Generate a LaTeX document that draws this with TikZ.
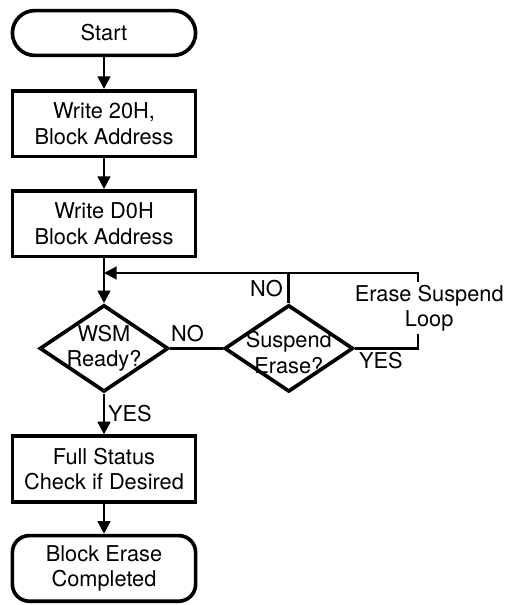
\documentclass[tikz,border=0pt]{standalone}
\usepackage{fontspec}
\setmainfont{TeX Gyre Heros}
\usetikzlibrary{shapes.geometric,arrows.meta,positioning}

\begin{document}
\begin{tikzpicture}[
    font=\fontsize{15.5}{18}\selectfont,
    procbox/.style={draw, line width=2.6pt, align=center, minimum width=4.58cm, minimum height=1.64cm},
    termbox/.style={procbox, rounded corners=0.42cm},
    decbox/.style={draw, diamond, line width=2.6pt, minimum width=3.22cm, minimum height=2.17cm, inner sep=0pt},
    flow/.style={line width=1.9pt},
    >={Triangle[length=9pt,width=9pt]}
]
    \useasboundingbox (0,0) rectangle (12.625,-15.125);

    \node[termbox, rounded corners=0.56cm, minimum height=1.12cm] (start) at (2.6,-0.825) {Start};
    \node[procbox] (write1) at (2.6,-3.09) {Write 20H,\\Block Address};
    \node[procbox] (write2) at (2.6,-5.59) {Write D0H\\Block Address};
    \node[decbox] (wsm) at (2.6,-8.71) {};
    \node[align=center] (wsmtext) at (wsm) {WSM\\Ready?};
    \node[decbox] (suspend) at (7.22,-8.71) {};
    \node[align=center] (suspendtext) at ([yshift=-0.1cm]suspend.center) {Suspend\\Erase?};
    \node[procbox] (status) at (2.6,-11.725) {Full Status\\Check if Desired};
    \node[termbox] (done) at (2.6,-14.21) {Block Erase\\Completed};

    \coordinate (merge) at (2.6,-6.825);
    \coordinate (loopr) at (10.45,-6.825);

    \draw[flow,->] (start) -- (write1);
    \draw[flow,->] (write1) -- (write2);
    \draw[flow,->] (write2) -- (wsm);
    \draw[flow] (wsm) -- node[pos=0.33, above] {NO} (suspend);
    \draw[flow] (suspend) -- node[left] {NO} (suspend |- merge);
    \draw[flow,->] (suspend.east) node[below right, inner sep=2pt] {YES} -| (loopr) -- (merge);
    \draw[flow,->] (wsm) -- node[right, inner sep=2pt] {YES} (status);
    \draw[flow,->] (status) -- (done);

    % loop label sits on the return line
    \node[fill=white, align=center, inner sep=2pt] (loop) at (10.73,-7.7) {Erase Suspend\\Loop};
\end{tikzpicture}
\end{document}
